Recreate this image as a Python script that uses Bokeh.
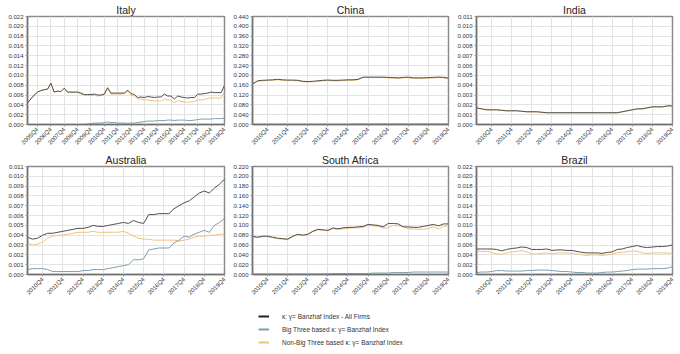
import math
from bokeh.plotting import figure
from bokeh.layouts import column, row
from bokeh.models import FixedTicker, NumeralTickFormatter, Legend, LegendItem, Range1d
from bokeh.embed import file_html
from bokeh.resources import INLINE

# ---------------- data ----------------
italy_ticks = ["2005Q4", "2006Q4", "2007Q4", "2008Q4", "2009Q4", "2010Q4", "2011Q4", "2012Q4",
               "2013Q4", "2014Q4", "2015Q4", "2016Q4", "2017Q4", "2018Q4", "2019Q4"]
other_ticks = ["2010Q4", "2011Q4", "2012Q4", "2013Q4", "2014Q4", "2015Q4", "2016Q4", "2017Q4",
               "2018Q4", "2019Q4"]

italy_all = [0.0044, 0.0052, 0.0060, 0.0066, 0.0069, 0.0071, 0.0072, 0.0084,
             0.0066, 0.0068, 0.0067, 0.0074, 0.0066, 0.0066, 0.0066, 0.0066,
             0.0064, 0.0061, 0.0061, 0.0061, 0.0062, 0.0060, 0.0060, 0.0062,
             0.0075, 0.0064, 0.0064, 0.0064, 0.0064, 0.0064, 0.0070, 0.0063,
             0.0061, 0.0055, 0.0056, 0.0055, 0.0057, 0.0056, 0.0055, 0.0056,
             0.0056, 0.0062, 0.0058, 0.0058, 0.0052, 0.0058, 0.0056, 0.0055,
             0.0054, 0.0055, 0.0055, 0.0062, 0.0062, 0.0063, 0.0064, 0.0066,
             0.0065, 0.0065, 0.0065, 0.0080]
italy_big3 = [0.0, 0.0, 0.0, 0.0, 0.0, 0.0, 0.0, 0.0,
              0.0, 0.0, 0.0, 0.0, 0.0, 0.0, 0.0, 0.0,
              0.0, 0.0, 0.0001, 0.0002, 0.0003, 0.0003, 0.0003, 0.0004,
              0.0005, 0.0004, 0.0004, 0.0003, 0.0003, 0.0003, 0.0002, 0.0003,
              0.0003, 0.0004, 0.0005, 0.0006, 0.0007, 0.0007, 0.0007, 0.0008,
              0.0008, 0.0008, 0.0009, 0.0009, 0.0008, 0.0009, 0.0009, 0.0009,
              0.0008, 0.0008, 0.0009, 0.0010, 0.0011, 0.0011, 0.0011, 0.0011,
              0.0012, 0.0012, 0.0012, 0.0013]
italy_nonbig3 = [0.0044, 0.0052, 0.0060, 0.0066, 0.0069, 0.0071, 0.0072, 0.0084,
                 0.0066, 0.0068, 0.0067, 0.0074, 0.0066, 0.0066, 0.0066, 0.0066,
                 0.0062, 0.0060, 0.0059, 0.0059, 0.0059, 0.0058, 0.0059, 0.0060,
                 0.0073, 0.0062, 0.0062, 0.0062, 0.0062, 0.0063, 0.0068, 0.0060,
                 0.0058, 0.0052, 0.0052, 0.0050, 0.0050, 0.0049, 0.0048, 0.0048,
                 0.0048, 0.0052, 0.0050, 0.0049, 0.0044, 0.0049, 0.0047, 0.0046,
                 0.0045, 0.0046, 0.0047, 0.0050, 0.0050, 0.0051, 0.0053, 0.0054,
                 0.0054, 0.0054, 0.0054, 0.0066]

china_all = [0.165, 0.178, 0.180, 0.181, 0.182, 0.184, 0.182, 0.181,
             0.181, 0.180, 0.176, 0.175, 0.176, 0.178, 0.180, 0.181,
             0.180, 0.180, 0.181, 0.182, 0.182, 0.184, 0.193, 0.193,
             0.193, 0.193, 0.193, 0.192, 0.191, 0.190, 0.192, 0.193,
             0.190, 0.190, 0.190, 0.191, 0.192, 0.193, 0.192, 0.189]
china_big3 = [0.001, 0.001, 0.001, 0.001, 0.001, 0.001, 0.001, 0.001,
              0.001, 0.001, 0.001, 0.001, 0.001, 0.001, 0.001, 0.001,
              0.001, 0.001, 0.001, 0.001, 0.002, 0.002, 0.002, 0.002,
              0.002, 0.002, 0.002, 0.002, 0.002, 0.002, 0.002, 0.002,
              0.002, 0.002, 0.002, 0.002, 0.002, 0.002, 0.002, 0.002]
china_nonbig3 = [0.163, 0.176, 0.178, 0.179, 0.180, 0.182, 0.180, 0.179,
                 0.179, 0.178, 0.174, 0.173, 0.174, 0.176, 0.178, 0.179,
                 0.178, 0.178, 0.179, 0.180, 0.180, 0.182, 0.191, 0.191,
                 0.191, 0.191, 0.191, 0.190, 0.189, 0.188, 0.190, 0.191,
                 0.188, 0.188, 0.188, 0.189, 0.190, 0.191, 0.190, 0.187]

india_all = [0.0017, 0.0016, 0.0015, 0.0015, 0.0015, 0.00145, 0.0014, 0.0014,
             0.0014, 0.00135, 0.0013, 0.0013, 0.0013, 0.00125, 0.0012, 0.0012,
             0.0012, 0.0012, 0.0012, 0.0012, 0.0012, 0.0012, 0.0012, 0.0012,
             0.0012, 0.0012, 0.0012, 0.0012, 0.0012, 0.0013, 0.0014, 0.0015,
             0.0016, 0.0016, 0.0017, 0.0018, 0.0018, 0.0018, 0.0019, 0.0019]
india_big3 = [0.0, 0.0, 0.0, 0.0, 0.0, 0.0, 0.0, 0.0,
              0.0, 0.0, 0.0, 0.0, 0.0, 0.0, 0.0, 0.0,
              0.0, 0.0, 0.0, 0.0, 0.0, 0.0, 0.0, 0.0,
              0.0, 0.0, 0.0, 0.0, 0.0, 0.0, 0.0, 0.0,
              0.0, 0.0, 0.0, 0.0, 0.0, 0.0, 0.0, 0.0]
india_nonbig3 = [0.00168, 0.00158, 0.00148, 0.00148, 0.00148, 0.00143, 0.00138, 0.00138,
                 0.00138, 0.00133, 0.00128, 0.00128, 0.00128, 0.00123, 0.00118, 0.00118,
                 0.00118, 0.00118, 0.00118, 0.00118, 0.00118, 0.00118, 0.00118, 0.00118,
                 0.00118, 0.00118, 0.00118, 0.00118, 0.00118, 0.00128, 0.00138, 0.00148,
                 0.00158, 0.00158, 0.00168, 0.00178, 0.00178, 0.00178, 0.00188, 0.00188]

australia_all = [0.0038, 0.0036, 0.0037, 0.0040, 0.0042, 0.0042, 0.0043, 0.0044,
                 0.0045, 0.0046, 0.0047, 0.0047, 0.0048, 0.0050, 0.0049, 0.0049,
                 0.0050, 0.0051, 0.0052, 0.0053, 0.0052, 0.0055, 0.0053, 0.0052,
                 0.0061, 0.0061, 0.0062, 0.0062, 0.0062, 0.0067, 0.0070, 0.0073,
                 0.0075, 0.0079, 0.0083, 0.0085, 0.0083, 0.0088, 0.0092, 0.0097]
australia_big3 = [0.0005, 0.0006, 0.0006, 0.0006, 0.0005, 0.0003, 0.0003, 0.0003,
                  0.0003, 0.0003, 0.0003, 0.0004, 0.0004, 0.0005, 0.0005, 0.0005,
                  0.0006, 0.0007, 0.0008, 0.0009, 0.0010, 0.0015, 0.0015, 0.0016,
                  0.0025, 0.0026, 0.0027, 0.0027, 0.0027, 0.0032, 0.0035, 0.0039,
                  0.0038, 0.0041, 0.0043, 0.0045, 0.0043, 0.0050, 0.0053, 0.0057]
australia_nonbig3 = [0.0032, 0.0030, 0.0031, 0.0033, 0.0037, 0.0039, 0.0040, 0.0040,
                     0.0041, 0.0042, 0.0043, 0.0043, 0.0043, 0.0044, 0.0043, 0.0043,
                     0.0043, 0.0043, 0.0043, 0.0044, 0.0042, 0.0039, 0.0037, 0.0036,
                     0.0036, 0.0035, 0.0035, 0.0035, 0.0035, 0.0035, 0.0034, 0.0035,
                     0.0036, 0.0038, 0.0039, 0.0039, 0.0040, 0.0040, 0.0041, 0.0041]

safrica_all = [0.078, 0.076, 0.078, 0.078, 0.076, 0.074, 0.073, 0.072,
               0.078, 0.082, 0.080, 0.082, 0.088, 0.092, 0.091, 0.090,
               0.095, 0.093, 0.095, 0.096, 0.096, 0.097, 0.098, 0.102,
               0.101, 0.100, 0.097, 0.104, 0.104, 0.103, 0.097, 0.097,
               0.096, 0.096, 0.098, 0.100, 0.102, 0.099, 0.103, 0.103]
safrica_big3 = [0.001, 0.001, 0.001, 0.001, 0.001, 0.001, 0.001, 0.001,
                0.001, 0.001, 0.001, 0.001, 0.001, 0.001, 0.001, 0.001,
                0.002, 0.002, 0.002, 0.002, 0.002, 0.002, 0.002, 0.002,
                0.003, 0.003, 0.003, 0.003, 0.004, 0.004, 0.004, 0.004,
                0.005, 0.005, 0.005, 0.005, 0.005, 0.005, 0.005, 0.005]
safrica_nonbig3 = [0.077, 0.075, 0.077, 0.077, 0.075, 0.073, 0.072, 0.071,
                   0.077, 0.081, 0.080, 0.081, 0.087, 0.091, 0.090, 0.089,
                   0.093, 0.092, 0.093, 0.094, 0.095, 0.095, 0.096, 0.100,
                   0.099, 0.098, 0.095, 0.095, 0.100, 0.099, 0.098, 0.093,
                   0.093, 0.092, 0.092, 0.094, 0.097, 0.093, 0.098, 0.099]

brazil_all = [0.0052, 0.0052, 0.0052, 0.0052, 0.0051, 0.0048, 0.0051, 0.0053,
              0.0054, 0.0056, 0.0055, 0.0051, 0.0051, 0.0051, 0.0052, 0.0049,
              0.0050, 0.0050, 0.0049, 0.0049, 0.0047, 0.0045, 0.0044, 0.0044,
              0.0044, 0.0043, 0.0045, 0.0046, 0.0051, 0.0052, 0.0055, 0.0057,
              0.0059, 0.0056, 0.0055, 0.0056, 0.0057, 0.0057, 0.0058, 0.0060]
brazil_big3 = [0.0004, 0.0005, 0.0005, 0.0006, 0.0008, 0.0008, 0.0007, 0.0007,
               0.0007, 0.0007, 0.0008, 0.0008, 0.0009, 0.0009, 0.0009, 0.0008,
               0.0007, 0.0006, 0.0006, 0.0005, 0.0004, 0.0004, 0.0003, 0.0003,
               0.0003, 0.0004, 0.0005, 0.0005, 0.0006, 0.0007, 0.0008, 0.0010,
               0.0011, 0.0011, 0.0011, 0.0012, 0.0012, 0.0012, 0.0013, 0.0016]
brazil_nonbig3 = [0.0048, 0.0047, 0.0047, 0.0045, 0.0042, 0.0041, 0.0044, 0.0046,
                  0.0047, 0.0049, 0.0046, 0.0042, 0.0042, 0.0043, 0.0044, 0.0042,
                  0.0044, 0.0044, 0.0044, 0.0043, 0.0042, 0.0040, 0.0039, 0.0040,
                  0.0040, 0.0039, 0.0040, 0.0041, 0.0045, 0.0045, 0.0046, 0.0048,
                  0.0047, 0.0044, 0.0043, 0.0044, 0.0044, 0.0044, 0.0044, 0.0043]

series_labels = ["\u03ba: \u03b3= Banzhaf Index - All Firms",
                 "Big Three based \u03ba: \u03b3= Banzhaf Index",
                 "Non-Big Three based \u03ba: \u03b3= Banzhaf Index"]

# ---------------- styling ----------------
C_ALL = "#505050"
C_BIG = "#7e9fae"
C_NON = "#f2c27c"
FONT = "Liberation Sans"

panels = [
    ("Italy", italy_all, italy_big3, italy_nonbig3, italy_ticks, 0.022, 0.002),
    ("China", china_all, china_big3, china_nonbig3, other_ticks, 0.44, 0.04),
    ("India", india_all, india_big3, india_nonbig3, other_ticks, 0.011, 0.001),
    ("Australia", australia_all, australia_big3, australia_nonbig3, other_ticks, 0.011, 0.001),
    ("South Africa", safrica_all, safrica_big3, safrica_nonbig3, other_ticks, 0.22, 0.02),
    ("Brazil", brazil_all, brazil_big3, brazil_nonbig3, other_ticks, 0.022, 0.002),
]

widths = [227, 227, 226]
lefts = [27, 25, 22]
rights = [3, 6, 8]


def make_panel(k, spec):
    name, a, b, c, ticks, ymax, ystep = spec
    col = k % 3
    n = len(a)
    xs = list(range(n))
    p = figure(width=widths[col], height=150, output_backend="svg", toolbar_location=None,
               x_range=Range1d(0, n - 1), y_range=Range1d(0, ymax),
               min_border_left=lefts[col], min_border_right=rights[col],
               min_border_top=16, min_border_bottom=22)
    p.title.text = name
    p.title.align = "center"
    p.title.text_font = FONT
    p.title.text_font_size = "10.5px"
    p.title.text_font_style = "normal"
    p.title.text_color = "#222222"
    p.title.offset = 0
    p.title.standoff = 1
    p.background_fill_color = "white"
    p.border_fill_color = "white"
    p.outline_line_color = "#8a8a8a"
    p.outline_line_width = 1.5

    tick_pos = [3 + 4 * i for i in range(len(ticks))]
    p.xaxis.ticker = FixedTicker(ticks=tick_pos)
    p.xaxis.major_label_overrides = {tp: lab for tp, lab in zip(tick_pos, ticks)}
    p.xaxis.major_label_orientation = math.pi / 4
    nt = int(round(ymax / ystep))
    p.yaxis.ticker = FixedTicker(ticks=[i * ystep for i in range(nt + 1)])
    p.yaxis.formatter = NumeralTickFormatter(format="0.000")
    for ax in (p.xaxis, p.yaxis):
        ax.major_label_text_font = FONT
        ax.major_label_text_font_size = "6px"
        ax.major_label_text_color = "#333333"
        ax.axis_line_color = "#707070"
        ax.axis_line_width = 1.5
        ax.major_tick_line_color = "#999999"
        ax.major_tick_out = 2
        ax.major_tick_in = 0
        ax.minor_tick_line_color = None
        ax.major_label_standoff = 2
    p.grid.grid_line_color = "#e3e3e3"
    p.grid.grid_line_width = 1

    p.line(xs, c, line_color=C_NON, line_width=1)
    p.line(xs, b, line_color=C_BIG, line_width=1)
    p.line(xs, a, line_color=C_ALL, line_width=1)
    return p


figs = [make_panel(k, s) for k, s in enumerate(panels)]

# legend figure (the swatch renderers sit outside the visible range)
lf = figure(width=680, height=54, output_backend="svg", toolbar_location=None,
            x_range=Range1d(0, 1), y_range=Range1d(0, 1),
            min_border=0)
lf.axis.visible = False
lf.grid.visible = False
lf.outline_line_color = None
lf.background_fill_color = "white"
lf.border_fill_color = "white"
r1 = lf.line([-5, -4], [-5, -5], line_color="#222222", line_width=2)
r2 = lf.line([-5, -4], [-5, -5], line_color=C_BIG, line_width=2)
r3 = lf.line([-5, -4], [-5, -5], line_color=C_NON, line_width=2)
leg = Legend(items=[LegendItem(label=series_labels[0], renderers=[r1]),
                    LegendItem(label=series_labels[1], renderers=[r2]),
                    LegendItem(label=series_labels[2], renderers=[r3])],
             location=(258, 6), orientation="vertical",
             glyph_width=11, glyph_height=12, label_standoff=13,
             spacing=1, padding=0, margin=0,
             label_text_font=FONT, label_text_font_size="6.5px",
             label_text_color="#333333", border_line_color=None,
             background_fill_alpha=0, label_height=12)
lf.add_layout(leg)

layout = column(row(*figs[:3]), row(*figs[3:]), lf)
open("out.html", "w").write(file_html(layout, INLINE))
